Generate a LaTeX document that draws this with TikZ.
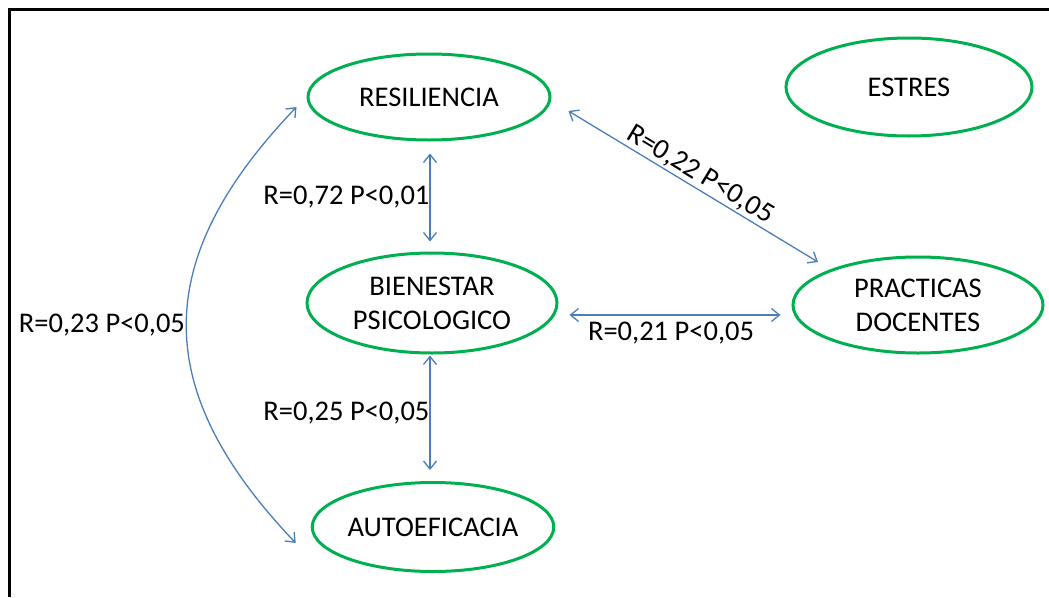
\documentclass[tikz,border=0pt]{standalone}
\usepackage{fontspec}
\setmainfont{Carlito}
\usepackage{xcolor}
\usetikzlibrary{shapes.geometric,arrows.meta}
\definecolor{elgreen}{RGB}{0,176,80}
\definecolor{relblue}{RGB}{74,126,187}
\tikzset{>={Straight Barb[length=8pt,width=13pt]}}
\tikzset{var/.style={ellipse, draw=elgreen, line width=3pt, align=center, inner sep=0pt},
  rel/.style={<->, draw=relblue, line width=1.3pt}}

\begin{document}
\begin{tikzpicture}[x=1pt, y=-1pt, font=\fontsize{28.5}{34}\selectfont]
  \useasboundingbox (0,0) rectangle (1049,597);
  \draw[line width=3pt] (9.5,597) -- (9.5,9.5) -- (1049,9.5);
  % variables
  \node[var, minimum width=242pt, minimum height=86pt] (res) at (429,97) {RESILIENCIA};
  \node[var, minimum width=246pt, minimum height=98pt] (est) at (909,87) {ESTRES};
  \node[var, minimum width=250pt, minimum height=100pt] (bien) at (432,303) {BIENESTAR\\PSICOLOGICO};
  \node[var, minimum width=250pt, minimum height=96pt] (prac) at (918,305) {PRACTICAS\\DOCENTES};
  \node[var, minimum width=232pt, minimum height=89pt] (aut) at (433,527) {AUTOEFICACIA};
  % correlations
  \draw[rel] ([shift={(1,12)}]res.south) -- node[left, inner sep=0pt] {R=0,72 P<0,01} ([shift={(-2,-10)}]bien.north);
  \draw[rel] ([shift={(-2,1)}]bien.south) -- node[left, inner sep=0pt] {R=0,25 P<0,05} ([shift={(-3,-11)}]aut.north);
  \draw[rel] ([shift={(11,12)}]bien.east) -- node[below, inner sep=6pt, xshift=-4pt] {R=0,21 P<0,05} ([shift={(-11,10)}]prac.west);
  \draw[rel] ([shift={(17,14)}]res.east) -- node[above, sloped, inner sep=2pt] {R=0,22 P<0,05} ([shift={(-100,-43)}]prac.center);
  \draw[rel] ([shift={(-10,10)}]res.west) .. controls (150,260) and (150,390) .. ([shift={(-15,16)}]aut.west)
    node[pos=0.5, left, inner sep=1pt] {R=0,23 P<0,05};
\end{tikzpicture}
\end{document}
